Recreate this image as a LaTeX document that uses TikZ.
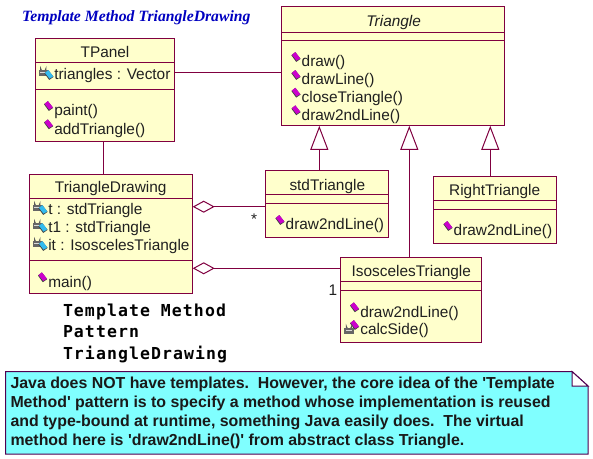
\documentclass[tikz,border=0pt]{standalone}
\usepackage{fontspec}
\setmainfont{Liberation Sans}
\newfontfamily\titlefont{Liberation Serif}
\newfontfamily\monofont[LetterSpace=6.5]{DejaVu Sans Mono}
\usetikzlibrary{arrows.meta}
\definecolor{umlline}{HTML}{800040}
\definecolor{noteline}{HTML}{500050}
\definecolor{umlfill}{HTML}{FFFFCC}
\definecolor{notefill}{HTML}{80FFFF}
\definecolor{umltext}{HTML}{202020}
\definecolor{opcolor}{HTML}{CC00CC}
\definecolor{attcolor}{HTML}{33BBEE}
\tikzset{
  x=1pt,y=-1pt,
  umlbox/.style={draw=umlline,fill=umlfill,line width=1pt,anchor=north west,inner sep=0pt,outer sep=0pt},
  umledge/.style={draw=umlline,line width=1pt},
  cell/.style={anchor=base west,inner sep=0pt,outer sep=0pt,font=\fontsize{15.4}{15}\selectfont,text=umltext},
  head/.style={anchor=base,inner sep=0pt,outer sep=0pt,font=\fontsize{15.4}{15}\selectfont,text=umltext},
  inherits/.style={umledge,{Triangle[open,length=24pt,width=18pt,fill=white]}-},
  aggregates/.style={umledge,{Diamond[open,length=22pt,width=12pt,fill=white]}-},
  notetext/.style={anchor=base west,inner sep=0pt,outer sep=0pt,font=\fontsize{15.9}{16}\bfseries\selectfont,text=black!90},
  pattern/.style={anchor=base west,inner sep=0pt,outer sep=0pt,font=\fontsize{16.5}{16}\monofont\bfseries\selectfont,text=black}
}
\newcommand{\rhomb}[3]{%
  \fill[black!75] (#1-4.6,#2-1.4) -- (#1-0.7,#2-4.6) -- (#1+4.6,#2+2.2) -- (#1+0.2,#2+5.2) -- cycle;
  \fill[#3] (#1-4.1,#2-1.9) -- (#1-0.7,#2-4.6) -- (#1+4.3,#2+1.7) -- (#1+0.6,#2+4) -- cycle;
}
\newcommand{\opmark}[2]{\rhomb{#1}{#2}{opcolor}}
\newcommand{\lockmark}[2]{%
  \draw[black!65,line width=1.1pt] (#1-2.6,#2) -- (#1-2.6,#2-2) arc[start angle=180,end angle=0,radius=2.6] -- (#1+2.6,#2);
  \fill[black!60] (#1-4.6,#2-0.3) rectangle (#1+4.6,#2+5);
  \fill[black!15] (#1-3,#2+1) rectangle (#1+3,#2+2.2);
}
\newcommand{\attmark}[2]{\lockmark{#1-5.7}{#2-4}\rhomb{#1}{#2}{attcolor}}
\newcommand{\oprow}[4]{\node[cell] (#1) at (#2,#3) {#4}; \opmark{#2-5.7}{#3-10}}
\newcommand{\attrow}[4]{\node[cell] (#1) at (#2,#3) {#4}; \attmark{#2-5.3}{#3-5}}
\newcommand{\hdiv}[2]{\draw[umledge] (#1.west |- 0,#2) -- (#1.east |- 0,#2);}
\begin{document}
\begin{tikzpicture}
\useasboundingbox (0,0) rectangle (593,458);
% classes
\node[umlbox,minimum width=139pt,minimum height=103.5pt] (tpanel) at (35.5,38) {};
\node[umlbox,minimum width=223pt,minimum height=119.5pt] (triangle) at (281.3,6.3) {};
\node[umlbox,minimum width=163.4pt,minimum height=119pt] (tdraw) at (29.3,174.3) {};
\node[umlbox,minimum width=123pt,minimum height=67pt] (std) at (265.3,170.3) {};
\node[umlbox,minimum width=123pt,minimum height=66.6pt] (right) at (433.3,176.7) {};
\node[umlbox,minimum width=141pt,minimum height=85pt] (iso) at (340.3,257.3) {};
% dividers
\hdiv{tpanel}{62}\hdiv{tpanel}{89}
\hdiv{triangle}{32.5}\hdiv{triangle}{40.5}
\hdiv{tdraw}{198.3}\hdiv{tdraw}{260.3}
\hdiv{std}{194.3}\hdiv{std}{203.3}
\hdiv{right}{200.3}\hdiv{right}{209.3}
\hdiv{iso}{281.3}\hdiv{iso}{290.3}
% connectors
\draw[umledge] (tpanel.east |- 0,72) -- (triangle.west |- 0,72);
\draw[umledge] (tpanel.south -| 103,0) -- (tdraw.north -| 103,0);
\draw[inherits] (triangle.south -| 319.3,0) -- (std.north -| 319.3,0);
\draw[inherits] (triangle.south -| 409.3,0) -- (iso.north -| 409.3,0);
\draw[inherits] (triangle.south -| 490.3,0) -- (right.north -| 490.3,0);
\draw[aggregates] (tdraw.east |- 0,206.7) -- (std.west |- 0,206.7);
\draw[aggregates] (tdraw.east |- 0,268.3) -- (iso.west |- 0,268.3);
% heads
\node[head] (tpanelname) at (105,57) {TPanel};
\node[head,font=\fontsize{15.4}{15}\itshape\selectfont] (trianglename) at (393.7,26.7) {Triangle};
\node[head] (tdrawname) at (110.7,192.7) {TriangleDrawing};
\node[head] (stdname) at (327.3,190) {stdTriangle};
\node[head] (rightname) at (494.7,195.7) {RightTriangle};
\node[head] (isoname) at (411.3,276.7) {IsoscelesTriangle};
% rows
\attrow{a1}{54.3}{79.7}{triangles : Vector}
\oprow{o1}{54.3}{115.7}{paint()}
\oprow{o2}{54.3}{134}{addTriangle()}
\oprow{o3}{301.7}{66.7}{draw()}
\oprow{o4}{301.7}{84.7}{drawLine()}
\oprow{o5}{301.7}{102.4}{closeTriangle()}
\oprow{o6}{301.7}{120}{draw2ndLine()}
\attrow{a2}{48.3}{214.7}{t : stdTriangle}
\attrow{a3}{48.3}{232.7}{t1 : stdTriangle}
\attrow{a4}{48.3}{250.7}{it : IsoscelesTriangle}
\oprow{o7}{48.3}{287}{main()}
\oprow{o8}{285.7}{229.7}{draw2ndLine()}
\oprow{o9}{453.7}{235.7}{draw2ndLine()}
\oprow{o10}{360.3}{317}{draw2ndLine()}
\oprow{o11}{360.3}{334.7}{calcSide()}
\lockmark{349}{328.5}
% multiplicities
\node[head] (mstar) at (254,224) {*};
\node[head] (mone) at (333,295) {1};
% title and pattern name
\node[anchor=base west,inner sep=0pt,font=\fontsize{15.7}{16}\titlefont\bfseries\itshape\selectfont,text={rgb,255:red,0;green,0;blue,192}] (title) at (22,21) {Template Method TriangleDrawing};
\node[pattern] (p1) at (63,316.7) {Template Method};
\node[pattern] (p2) at (63,337.7) {Pattern};
\node[pattern] (p3) at (63,359) {TriangleDrawing};
% note
\draw[draw=noteline,fill=notefill,line width=1pt] (5.5,371.5) -- (572,371.5) -- (588,386) -- (588,454) -- (5.5,454) -- cycle;
\draw[draw=noteline,fill=white,line width=1pt] (572,371.5) -- (572,386) -- (588,386) -- cycle;
\node[notetext] (n1) at (10.5,388.5) {Java does NOT have templates.\ \ However, the core idea of the \textquotesingle Template};
\node[notetext] (n2) at (10.5,407.5) {Method\textquotesingle\ pattern is to specify a method whose implementation is reused};
\node[notetext] (n3) at (10.5,426.5) {and type-bound at runtime, something Java easily does.\ \ The virtual};
\node[notetext] (n4) at (10.5,445.5) {method here is \textquotesingle draw2ndLine()\textquotesingle\ from abstract class Triangle.};
\end{tikzpicture}
\end{document}
